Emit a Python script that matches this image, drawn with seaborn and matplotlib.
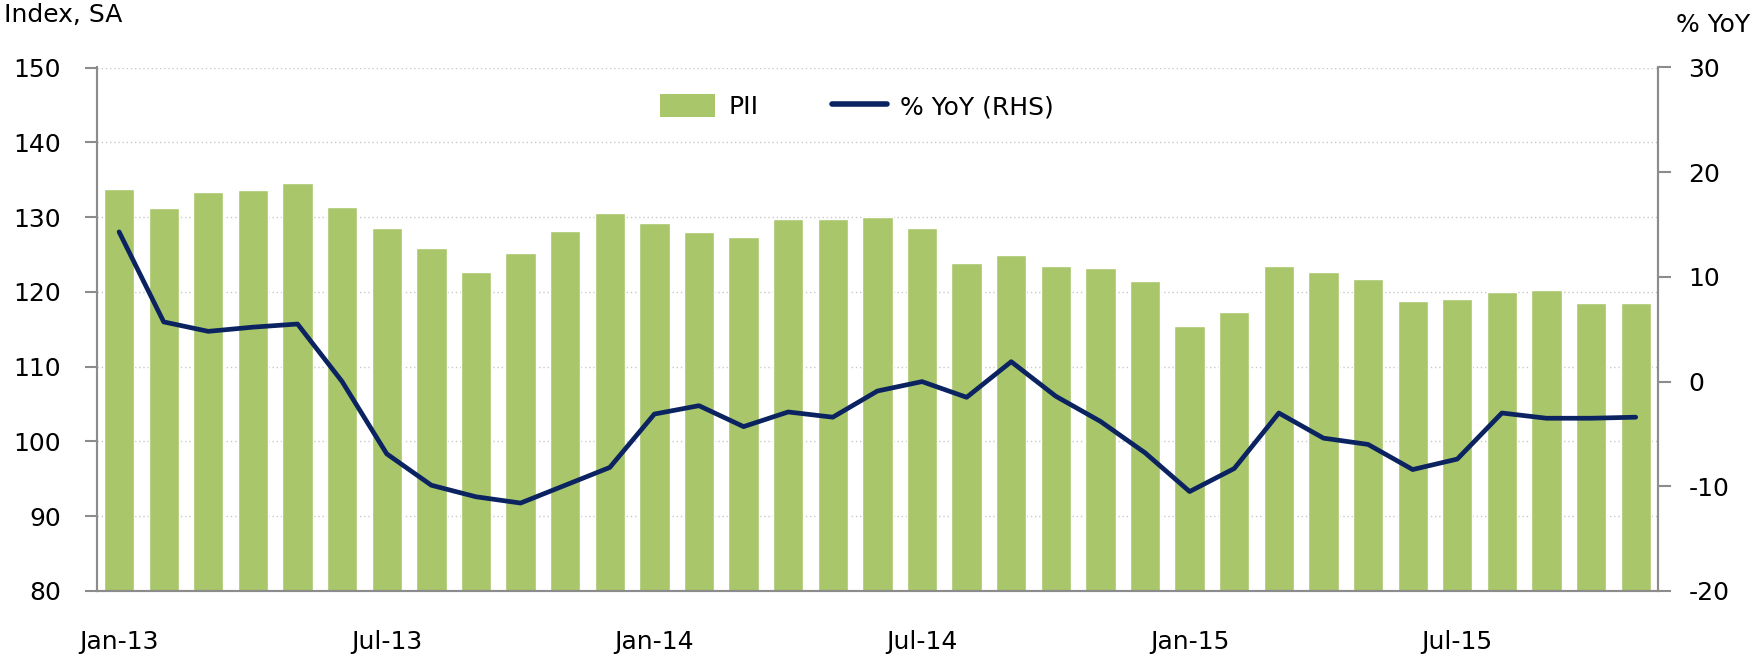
import numpy as np
import pandas as pd
import matplotlib.pyplot as plt
import matplotlib.ticker as mticker
from matplotlib.patches import Patch
from matplotlib.lines import Line2D
import seaborn as sns

sns.set_style('white')
plt.rcParams['font.family'] = ['DejaVu Sans']
plt.rcParams['axes.unicode_minus'] = False
plt.rcParams['text.color'] = 'black'
plt.rcParams['xtick.labelcolor'] = 'black'
plt.rcParams['ytick.labelcolor'] = 'black'

# data
months = pd.date_range('2013-01-01', periods=35, freq='MS').strftime('%b-%y').tolist()
pii = [133.7, 131.2, 133.3, 133.6, 134.5, 131.3, 128.6, 125.9, 122.6, 125.2, 128.2, 130.6,
       129.2, 128.0, 127.4, 129.8, 129.8, 130.0, 128.6, 123.8, 124.9, 123.4, 123.2, 121.5,
       115.5, 117.3, 123.5, 122.6, 121.7, 118.8, 119.0, 120.0, 120.2, 118.5, 118.5]
yoy = [14.3, 5.7, 4.8, 5.2, 5.5, 0.0, -6.9, -9.9, -11.0, -11.6, -9.9, -8.2,
       -3.1, -2.3, -4.3, -2.9, -3.4, -0.9, 0.0, -1.5, 1.9, -1.4, -3.8, -6.8,
       -10.5, -8.3, -3.0, -5.4, -6.0, -8.4, -7.4, -3.0, -3.5, -3.5, -3.4]

df = pd.DataFrame({'month': months, 'pii': pii, 'yoy': yoy})

bar_col = '#A9C66B'
line_col = '#0B2461'
grey = '#8C8C8C'
fs = 18

fig = plt.figure(figsize=(17.65, 6.58), dpi=100)
ax = fig.add_axes([96.8/1765, 1 - 591/658, (1658 - 96.8)/1765, (591 - 67.5)/658])

sns.barplot(data=df, x='month', y='pii', color=bar_col, width=0.68,
            saturation=1, ax=ax)
ax.set_ylim(80, 150)
ax.set_xlim(-0.5, len(months) - 0.5)
ax.set_yticks(np.arange(80, 151, 10))
ax.yaxis.grid(True, linestyle=(0, (1, 2)), color='#C8C8C8', linewidth=1)
ax.set_axisbelow(True)
ax.set_xlabel('')
ax.set_ylabel('')

# x ticks: labels every 6 months, marks on the category boundaries
idx = np.arange(0, len(months), 6)
ax.set_xticks(idx)
ax.set_xticklabels([months[i] for i in idx])
ax.xaxis.set_minor_locator(mticker.FixedLocator(idx - 0.5))
ax.tick_params(axis='x', which='major', length=0, pad=28, labelsize=fs)
ax.tick_params(axis='x', which='minor', length=9, width=1.5, color=grey, direction='out')
ax.tick_params(axis='y', length=9, width=1.5, color=grey, direction='out',
               pad=17, labelsize=fs, left=True)

for s in ['left', 'bottom', 'right']:
    ax.spines[s].set_color(grey)
    ax.spines[s].set_linewidth(1.5)
ax.spines['top'].set_visible(False)

ax2 = ax.twinx()
sns.lineplot(x=np.arange(len(months)), y=df['yoy'], color=line_col, linewidth=3.4, ax=ax2)
ax2.set_ylim(-20, 30)
ax2.set_yticks(np.arange(-20, 31, 10))
ax2.set_ylabel('')
ax2.tick_params(axis='y', length=9, width=1.5, color=grey, direction='out',
                pad=13, labelsize=fs, right=True)
for s in ['left', 'bottom', 'right']:
    ax2.spines[s].set_color(grey)
    ax2.spines[s].set_linewidth(1.5)
ax2.spines['top'].set_visible(False)

handles = [Patch(facecolor=bar_col, edgecolor='none'),
           Line2D([0], [0], color=line_col, linewidth=4, solid_capstyle='round')]
ax2.legend(handles, ['PII', '% YoY (RHS)'], loc='center', bbox_to_anchor=(0.487, 0.925),
           ncol=2, frameon=False, fontsize=fs, handlelength=2.2, handleheight=1.0,
           columnspacing=2.9, handletextpad=0.55)

fig.text(4/1765, 1 - 22/658, 'Index, SA', fontsize=fs, ha='left', va='baseline')
fig.text(1750/1765, 1 - 32/658, '% YoY', fontsize=fs, ha='right', va='baseline')

fig.savefig('out.png', dpi=100)
